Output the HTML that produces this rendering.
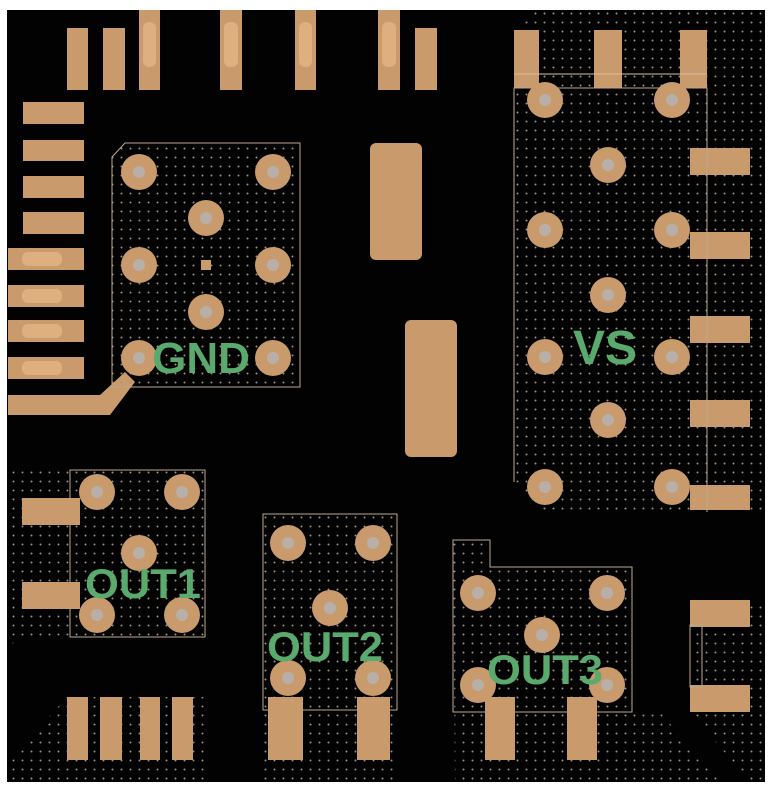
<!DOCTYPE html>
<html><head><meta charset="utf-8"><style>
html,body{margin:0;padding:0;background:#fff}
svg{display:block}
text{font-family:"Liberation Sans",sans-serif;font-weight:bold;fill:#5aaa6e}
</style></head><body>
<svg width="768" height="787" viewBox="0 0 768 787" xmlns="http://www.w3.org/2000/svg">
<defs>
<pattern id="d" width="9" height="9" patternUnits="userSpaceOnUse">
<circle cx="4.5" cy="4.5" r="1" fill="#9a9686"/>
</pattern>
<g id="v"><circle r="18" fill="#c89a6c"/><circle r="6" fill="#b8b0a8"/></g>
</defs>
<rect x="7" y="10" width="758" height="772" fill="#020202"/>
<g fill="#c89a6c">
<rect x="67" y="28" width="21" height="62"/>
<rect x="103" y="28" width="22" height="62"/>
<rect x="139" y="10" width="21" height="80"/>
<rect x="220" y="10" width="22" height="80"/>
<rect x="295" y="10" width="21" height="80"/>
<rect x="378" y="10" width="22" height="80"/>
<rect x="415" y="28" width="22" height="62"/>
<rect x="23" y="102" width="61" height="22"/>
<rect x="23" y="140" width="61" height="21"/>
<rect x="23" y="176" width="61" height="22"/>
<rect x="23" y="212" width="61" height="22"/>
<rect x="8" y="248" width="76" height="22"/>
<rect x="8" y="285" width="76" height="22"/>
<rect x="8" y="320" width="76" height="22"/>
<rect x="8" y="357" width="76" height="22"/>
<polygon points="8,395 100,395 125,372 135,382 110,415 8,415"/>
<rect x="370" y="143" width="52" height="117" rx="6"/>
<rect x="405" y="320" width="52" height="137" rx="6"/>
</g>
<g fill="#e8b888" opacity="0.7">
<rect x="143" y="22" width="13" height="45" rx="6"/><rect x="224" y="22" width="14" height="45" rx="6"/><rect x="299" y="22" width="13" height="45" rx="6"/><rect x="382" y="22" width="14" height="45" rx="6"/>
<rect x="22" y="252" width="40" height="14" rx="6"/><rect x="22" y="289" width="40" height="14" rx="6"/><rect x="22" y="324" width="40" height="14" rx="6"/><rect x="22" y="361" width="40" height="14" rx="6"/>
</g>
<polygon points="125,143 300,143 300,387 112,387 112,157" fill="url(#d)" stroke="#bfa88e" stroke-width="1"/>
<g fill="#c89a6c"><rect x="201" y="260" width="10" height="10"/></g>
<use href="#v" x="139" y="172"/><use href="#v" x="273" y="172"/><use href="#v" x="206" y="218"/>
<use href="#v" x="139" y="265"/><use href="#v" x="273" y="265"/><use href="#v" x="206" y="312"/>
<use href="#v" x="139" y="358"/><use href="#v" x="273" y="358"/>
<polygon points="536,10 765,10 765,512 540,512 514,482 514,30" fill="url(#d)"/>
<g fill="#c89a6c">
<rect x="514" y="30" width="25" height="58"/><rect x="594" y="30" width="28" height="58"/><rect x="680" y="30" width="27" height="58"/>
<rect x="690" y="148" width="60" height="27"/><rect x="690" y="232" width="60" height="27"/><rect x="690" y="316" width="60" height="27"/><rect x="690" y="400" width="60" height="27"/><rect x="690" y="485" width="60" height="25"/>
</g>
<line x1="514" y1="74" x2="707" y2="74" stroke="#d8c0a0" stroke-width="1"/>
<polyline points="514,482 514,88 707,88 707,512" fill="none" stroke="#bfa88e" stroke-width="1"/>
<use href="#v" x="545" y="100"/><use href="#v" x="672" y="100"/><use href="#v" x="608" y="165"/>
<use href="#v" x="545" y="230"/><use href="#v" x="672" y="230"/><use href="#v" x="608" y="295"/>
<use href="#v" x="545" y="357"/><use href="#v" x="672" y="357"/><use href="#v" x="608" y="420"/>
<use href="#v" x="545" y="487"/><use href="#v" x="672" y="487"/>
<polygon points="8,470 205,470 205,637 20,637 8,648" fill="url(#d)"/>
<rect x="70" y="470" width="135" height="167" fill="none" stroke="#bfa88e" stroke-width="1"/>
<g fill="#c89a6c"><rect x="22" y="498" width="58" height="27"/><rect x="22" y="582" width="58" height="27"/></g>
<use href="#v" x="97" y="492"/><use href="#v" x="182" y="492"/><use href="#v" x="139" y="553"/>
<use href="#v" x="97" y="615"/><use href="#v" x="182" y="615"/>
<rect x="263" y="514" width="134" height="268" fill="url(#d)"/>
<rect x="263" y="514" width="134" height="196" fill="none" stroke="#bfa88e" stroke-width="1"/>
<g fill="#c89a6c"><rect x="268" y="697" width="35" height="63"/><rect x="357" y="697" width="33" height="63"/></g>
<use href="#v" x="288" y="543"/><use href="#v" x="373" y="543"/><use href="#v" x="330" y="608"/>
<use href="#v" x="288" y="678"/><use href="#v" x="373" y="678"/>
<polygon points="453,540 490,540 490,567 632,567 632,712 660,712 720,782 455,782" fill="url(#d)"/>
<polygon points="453,540 490,540 490,567 632,567 632,712 453,712" fill="none" stroke="#bfa88e" stroke-width="1"/>
<g fill="#c89a6c"><rect x="485" y="697" width="30" height="63"/><rect x="567" y="697" width="30" height="63"/></g>
<use href="#v" x="478" y="593"/><use href="#v" x="607" y="593"/><use href="#v" x="542" y="635"/>
<use href="#v" x="478" y="685"/><use href="#v" x="607" y="685"/>
<polygon points="8,762 67,697 205,697 205,782 8,782" fill="url(#d)"/>
<g fill="#c89a6c"><rect x="67" y="697" width="21" height="63"/><rect x="100" y="697" width="22" height="63"/><rect x="140" y="697" width="20" height="63"/><rect x="172" y="697" width="21" height="63"/></g>
<polygon points="690,600 765,600 765,782 750,782 690,712" fill="url(#d)"/>
<g fill="#c89a6c"><rect x="690" y="600" width="60" height="27"/><rect x="690" y="685" width="60" height="27"/></g>
<rect x="690" y="625" width="12" height="62" fill="none" stroke="#bfa88e" stroke-width="1"/>
<text x="201" y="373" font-size="44" text-anchor="middle">GND</text>
<text x="605" y="364" font-size="48" text-anchor="middle">VS</text>
<text x="143" y="598" font-size="42" text-anchor="middle" textLength="116" lengthAdjust="spacingAndGlyphs">OUT1</text>
<text x="325" y="661" font-size="42" text-anchor="middle" textLength="116" lengthAdjust="spacingAndGlyphs">OUT2</text>
<text x="545" y="684" font-size="42" text-anchor="middle" textLength="116" lengthAdjust="spacingAndGlyphs">OUT3</text>
</svg>
</body></html>
